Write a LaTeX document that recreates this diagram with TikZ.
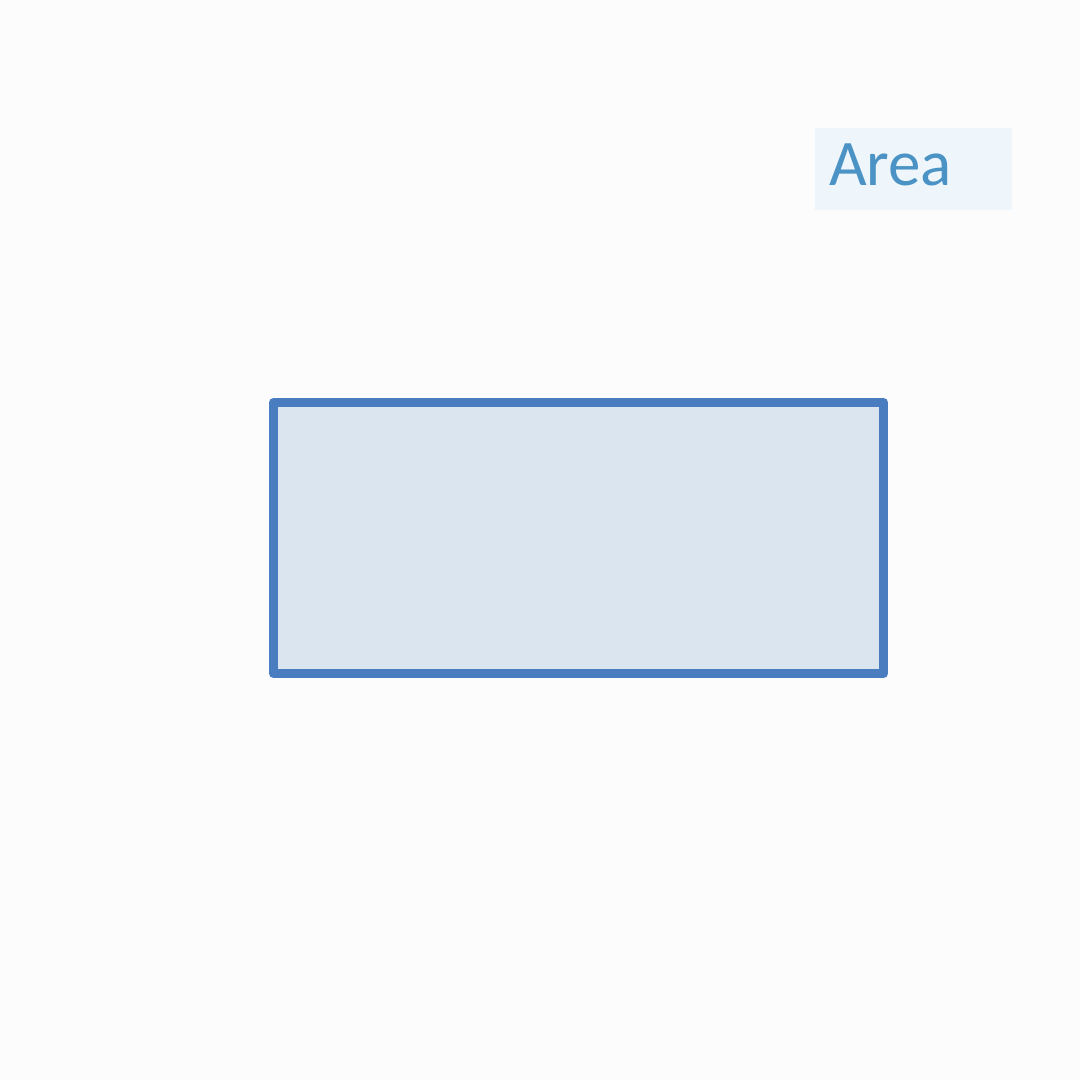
\documentclass[tikz,border=0pt]{standalone}
\usepackage{fontspec}
\setmainfont{Carlito}
\definecolor{areaedge}{HTML}{4A7CC0}
\definecolor{areafill}{HTML}{DAE5F0}
\definecolor{tagfill}{HTML}{EEF5FB}
\definecolor{tagtext}{HTML}{4A93C4}
\definecolor{pagebg}{HTML}{FCFCFC}
\begin{document}
\begin{tikzpicture}
\fill[pagebg] (0,0) rectangle (10.8,10.8);
\useasboundingbox (0,0) rectangle (10.8,10.8);

\node[draw=areaedge, fill=areafill, line width=2.6pt, line join=round,
  minimum width=6.1cm, minimum height=2.71cm] (area) at (5.785,5.42) {};

\node[fill=tagfill, text=tagtext, font=\fontsize{18.5}{20}\selectfont,
  inner xsep=0.14cm, text width=1.69cm, align=left, text depth=0.09cm,
  minimum height=0.82cm] (label) at (9.135,9.11) {Area};
\end{tikzpicture}
\end{document}
